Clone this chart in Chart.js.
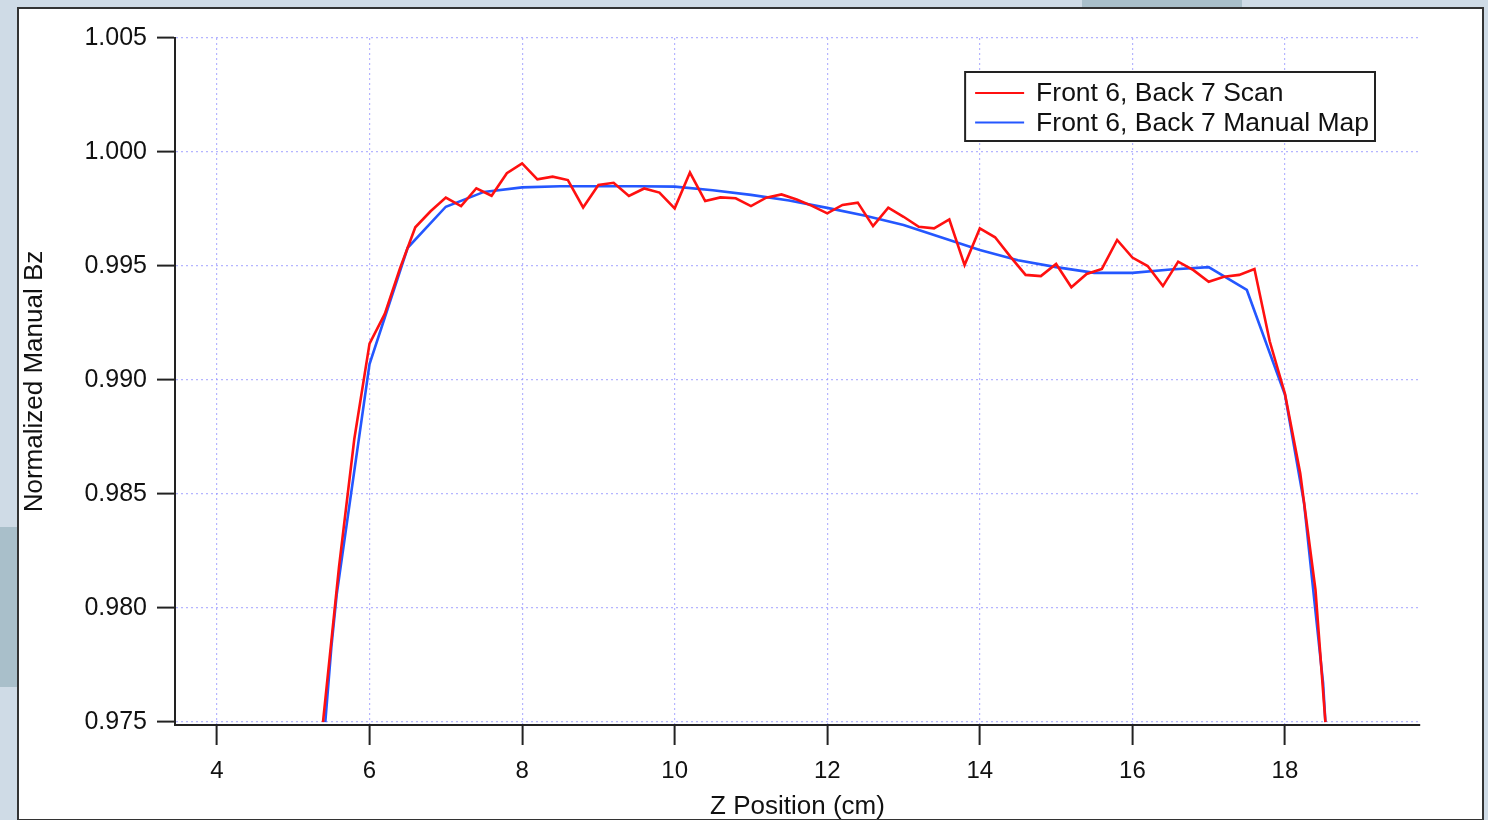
<!DOCTYPE html>
<html>
<head>
<meta charset="utf-8">
<script src="https://cdn.jsdelivr.net/npm/chart.js@4.4.1/dist/chart.umd.min.js"></script>
<style>
  html, body { margin: 0; padding: 0; }
  body { width: 1488px; height: 820px; overflow: hidden; background: #cfdbe6; position: relative; }
  .strip { position: absolute; background: #a9bfca; }
  #panel { position: absolute; left: 17px; top: 7px; width: 1463px; height: 810px; border: 2px solid #333; background: #fff; overflow: hidden; }
  #chart { display: block; }
</style>
</head>
<body>
<div class="strip" style="left:0;top:527px;width:17px;height:160px"></div>
<div class="strip" style="left:1082px;top:0;width:160px;height:7px"></div>
<div id="panel"><canvas id="chart" width="1463" height="813"></canvas></div>
<script>
'use strict';

// Scan data (red), every 0.2 cm
const zScan = [5.39, 5.6, 5.8, 6.0, 6.2, 6.4, 6.6, 6.8, 7.0, 7.2, 7.4, 7.6, 7.8, 8.0, 8.2, 8.4, 8.6, 8.8,
  9.0, 9.2, 9.4, 9.6, 9.8, 10.0, 10.2, 10.4, 10.6, 10.8, 11.0, 11.2, 11.4, 11.6, 11.8, 12.0, 12.2, 12.4,
  12.6, 12.8, 13.0, 13.2, 13.4, 13.6, 13.8, 14.0, 14.2, 14.4, 14.6, 14.8, 15.0, 15.2, 15.4, 15.6, 15.8,
  16.0, 16.2, 16.4, 16.6, 16.8, 17.0, 17.2, 17.4, 17.6, 17.8, 18.0, 18.2, 18.4, 18.53];
const bzScan = [0.9750, 0.9818, 0.9874, 0.9916, 0.9929, 0.9949, 0.9967, 0.9974, 0.9980, 0.99763, 0.99841, 0.99808, 0.99907, 0.9995, 0.9988, 0.99892, 0.99877, 0.99757,
  0.99855, 0.99865, 0.99807, 0.9984, 0.99822, 0.99753, 0.9991, 0.99785, 0.99801, 0.99797, 0.99763, 0.998, 0.99814, 0.99792, 0.99764, 0.99731, 0.99768, 0.99778,
  0.99675, 0.99756, 0.99716, 0.99672, 0.99665, 0.99704, 0.99504, 0.99665, 0.99626, 0.99541, 0.99461, 0.99456, 0.99509, 0.99407, 0.99465, 0.99487, 0.99614,
  0.99537, 0.995, 0.99412, 0.99519, 0.99482, 0.99431, 0.99453, 0.99461, 0.99487, 0.9917, 0.9894, 0.98591, 0.9808, 0.9750];

// Manual map data (blue)
const zMap = [5.42, 5.5, 5.57, 6.0, 6.5, 7.0, 7.5, 8.0, 8.5, 9.0, 9.5, 10.0, 10.5, 11.0, 11.5, 12.0, 12.5, 13.0,
  13.5, 14.0, 14.5, 15.0, 15.5, 16.0, 16.5, 17.0, 17.5, 18.0, 18.25, 18.5, 18.53];
const bzMap = [0.9750, 0.9783, 0.9806, 0.9907, 0.9958, 0.9976, 0.99825, 0.99845, 0.9985, 0.9985, 0.9985, 0.99848, 0.99832, 0.99812, 0.99787, 0.99755, 0.9972, 0.9968,
  0.99625, 0.9957, 0.99525, 0.99495, 0.9947, 0.9947, 0.99485, 0.99495, 0.99395, 0.98935, 0.9846, 0.9767, 0.9750];

const xTicks = [4, 6, 8, 10, 12, 14, 16, 18];
const yTicks = [0.975, 0.980, 0.985, 0.990, 0.995, 1.000, 1.005];

const FONT = "'Liberation Sans', Arial, sans-serif";

function toPoints(xs, ys) {
  return xs.map((x, i) => ({ x: x, y: ys[i] }));
}

// Draws the boxed legend in the upper right of the plot
const boxLegend = {
  id: 'boxLegend',
  afterDraw(chart) {
    const ctx = chart.ctx;
    const area = chart.chartArea;
    const sets = chart.data.datasets;
    ctx.save();
    ctx.font = '26.5px ' + FONT;
    let textW = 0;
    sets.forEach(ds => { textW = Math.max(textW, ctx.measureText(ds.label).width); });
    const w = 71 + textW + 6;
    const h = 69;
    const left = area.right - 45 - w;
    const top = area.top + 34;
    ctx.fillStyle = '#fff';
    ctx.fillRect(left, top, w, h);
    ctx.lineWidth = 2;
    ctx.strokeStyle = '#222';
    ctx.strokeRect(left, top, w, h);
    sets.forEach((ds, i) => {
      const y = top + 21 + i * 29.6;
      ctx.strokeStyle = ds.borderColor;
      ctx.lineWidth = 2;
      ctx.beginPath();
      ctx.moveTo(left + 10, y);
      ctx.lineTo(left + 59, y);
      ctx.stroke();
      ctx.fillStyle = '#111';
      ctx.textBaseline = 'middle';
      ctx.fillText(ds.label, left + 71, y + 1);
    });
    ctx.restore();
  }
};

new Chart(document.getElementById('chart'), {
  type: 'line',
  data: {
    datasets: [
      {
        label: 'Front 6, Back 7 Scan',
        data: toPoints(zScan, bzScan),
        borderColor: '#ff1010',
        borderWidth: 2.6,
        pointRadius: 0,
        tension: 0
      },
      {
        label: 'Front 6, Back 7 Manual Map',
        data: toPoints(zMap, bzMap),
        borderColor: '#2457ff',
        borderWidth: 2.6,
        pointRadius: 0,
        tension: 0
      }
    ]
  },
  options: {
    responsive: false,
    animation: false,
    layout: { padding: { left: 0, top: 29, right: 62, bottom: 0 } },
    plugins: {
      legend: { display: false },
      tooltip: { enabled: false }
    },
    scales: {
      x: {
        type: 'linear',
        min: 3.45,
        max: 19.77,
        afterBuildTicks: scale => { scale.ticks = xTicks.map(v => ({ value: v })); },
        afterFit: scale => { scale.height = 97; },
        ticks: {
          autoSkip: false,
          maxRotation: 0,
          padding: 12,
          color: '#111',
          font: { family: FONT, size: 24 },
          callback: v => String(v)
        },
        grid: {
          color: 'rgba(150,150,255,0.7)',
          lineWidth: 1.2,
          tickLength: 20,
          tickColor: '#222',
          tickWidth: 2
        },
        border: { display: true, color: '#222', width: 2, dash: [2, 3] },
        title: {
          display: true,
          text: 'Z Position (cm)',
          color: '#111',
          font: { family: FONT, size: 26 },
          padding: { top: 0, bottom: 0 }
        }
      },
      y: {
        type: 'linear',
        min: 0.97487,
        max: 1.005,
        afterBuildTicks: scale => { scale.ticks = yTicks.map(v => ({ value: v })); },
        afterFit: scale => { scale.width = 156; },
        ticks: {
          padding: 10,
          color: '#111',
          font: { family: FONT, size: 25 },
          callback: v => Number(v).toFixed(3)
        },
        grid: {
          color: 'rgba(150,150,255,0.7)',
          lineWidth: 1.2,
          tickLength: 18,
          tickColor: '#222',
          tickWidth: 2
        },
        border: { display: true, color: '#222', width: 2, dash: [2, 3] },
        title: {
          display: true,
          text: 'Normalized Manual Bz',
          color: '#111',
          font: { family: FONT, size: 26 },
          padding: { top: 0, bottom: 0 }
        }
      }
    }
  },
  plugins: [boxLegend]
});
</script>
</body>
</html>
